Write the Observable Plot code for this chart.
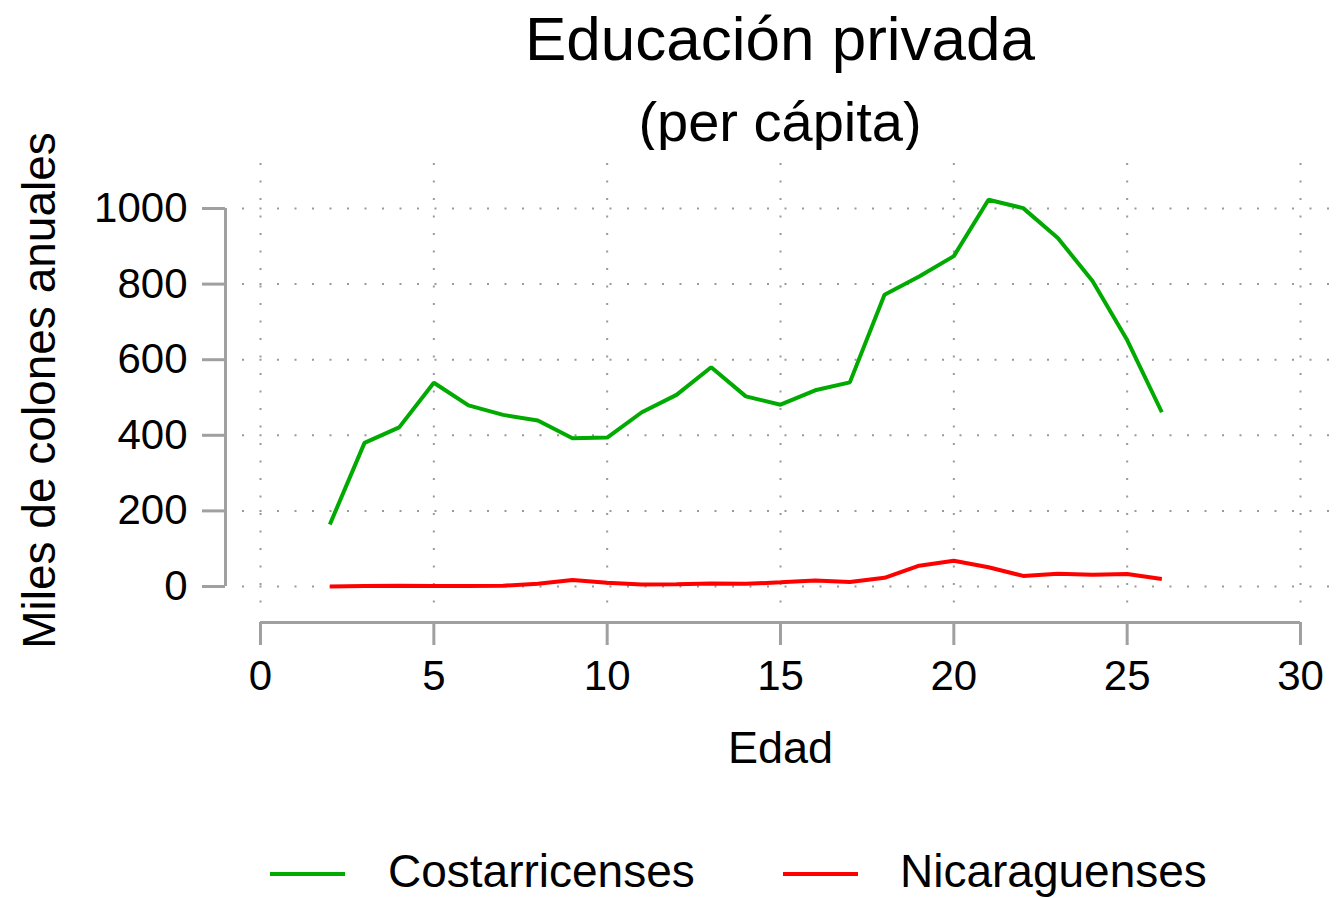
<!DOCTYPE html>
<html>
<head>
<meta charset="utf-8">
<script src="https://cdn.jsdelivr.net/npm/d3@7"></script>
<script src="https://cdn.jsdelivr.net/npm/@observablehq/plot@0.6"></script>
<style>
  html, body { margin: 0; padding: 0; background: #fff; }
  #page { position: relative; width: 1338px; height: 898px; overflow: hidden;
          font-family: "Liberation Sans", Arial, Helvetica, sans-serif; color: #000; }
  .ttl { position: absolute; white-space: nowrap; line-height: 1; transform: translateX(-50%); }
  #chart { position: absolute; left: 0; top: 150px; }
  .sw { position: absolute; height: 4px; width: 75px; }
  .lg { position: absolute; white-space: nowrap; line-height: 1; font-size: 46px; }
</style>
</head>
<body>
<div id="page">
  <div class="ttl" id="t1" style="left:780px; top:8px; font-size:62px;"></div>
  <div class="ttl" id="t2" style="left:780px; top:94px; font-size:56px;"></div>
  <div id="chart"></div>
  <div id="legend"></div>
</div>
<script>
// ---- data ----
const title = "Educación privada";
const subtitle = "(per cápita)";
const xLabel = "Edad";
const yLabel = "Miles de colones anuales";
const series = ["Costarricenses", "Nicaraguenses"];
const colors = ["#00AA00", "#FF0000"];
const edades = [2,3,4,5,6,7,8,9,10,11,12,13,14,15,16,17,18,19,20,21,22,23,24,25,26];
const costarricenses = [164,380,421,539,479,454,439,392,394,461,507,580,503,481,519,540,772,820,874,1023,1001,922,808,652,461];
const nicaraguenses  = [0,1,2,1,1,2,7,17,10,5,6,8,7,11,16,12,23,55,68,51,28,34,31,33,20];
const xTicks = [0,5,10,15,20,25,30];
const yTicks = [0,200,400,600,800,1000];

// ---- table ----
const rows = [];
edades.forEach((e, i) => {
  rows.push({edad: e, valor: costarricenses[i], grupo: series[0]});
  rows.push({edad: e, valor: nicaraguenses[i], grupo: series[1]});
});

document.getElementById("t1").textContent = title;
document.getElementById("t2").textContent = subtitle;

const axisGray = "#a0a0a0";
const gridStyle = {stroke: "#9a9a9a", strokeWidth: 2, strokeDasharray: "2,15.5", strokeOpacity: 1};

const chart = Plot.plot({
  width: 1338,
  height: 690,
  marginLeft: 242,
  marginRight: 0,
  marginTop: 13,
  marginBottom: 235,
  style: {fontFamily: '"Liberation Sans", Arial, Helvetica, sans-serif', background: "white", overflow: "visible"},
  x: {domain: [0, 30], insetLeft: 18, insetRight: 38},
  y: {domain: [0, 1000], insetTop: 45, insetBottom: 19},
  color: {domain: series, range: colors},
  marks: [
    Plot.gridX(xTicks, gridStyle),
    Plot.gridY(yTicks, gridStyle),
    // axis lines (R-style detached axes)
    Plot.ruleX([0], {y1: yTicks[0], y2: yTicks[yTicks.length - 1], dx: -35, stroke: axisGray, strokeWidth: 3}),
    Plot.ruleY([0], {x1: xTicks[0], x2: xTicks[xTicks.length - 1], dy: 36, stroke: axisGray, strokeWidth: 3}),
    Plot.axisY(yTicks, {anchor: "left", tickSize: 23, tickPadding: 15, dx: -17, stroke: axisGray, strokeWidth: 3, fill: "black", fontSize: 42, label: null, tickFormat: (d) => String(d)}),
    Plot.axisX(xTicks, {anchor: "bottom", tickSize: 23, tickPadding: 15, dy: 17, stroke: axisGray, strokeWidth: 3, fill: "black", fontSize: 42, label: null, tickFormat: (d) => String(d)}),
    Plot.text([xLabel], {frameAnchor: "bottom", dy: 143, dx: -10, fontSize: 45, lineAnchor: "middle", textAnchor: "middle", fill: "black"}),
    Plot.text([yLabel], {frameAnchor: "left", dx: -202, dy: 6, rotate: -90, fontSize: 46, lineAnchor: "middle", textAnchor: "middle", fill: "black"}),
    Plot.line(rows, {x: "edad", y: "valor", z: "grupo", stroke: "grupo", strokeWidth: 4, strokeLinejoin: "miter", strokeLinecap: "butt"})
  ]
});
document.getElementById("chart").appendChild(chart);

// ---- legend ----
const legend = document.getElementById("legend");
const swLeft = [270, 783], txLeft = [388, 900];
series.forEach((s, i) => {
  const sw = document.createElement("div");
  sw.className = "sw";
  sw.style.left = swLeft[i] + "px";
  sw.style.top = "872px";
  sw.style.background = colors[i];
  legend.appendChild(sw);
  const tx = document.createElement("div");
  tx.className = "lg";
  tx.style.left = txLeft[i] + "px";
  tx.style.top = "848px";
  tx.textContent = s;
  legend.appendChild(tx);
});
</script>
</body>
</html>
